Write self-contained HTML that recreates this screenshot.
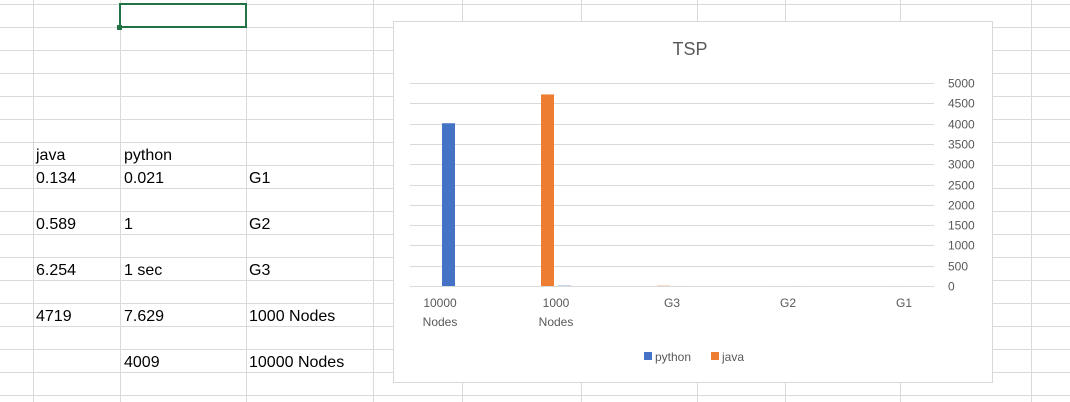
<!DOCTYPE html>
<html><head><meta charset="utf-8"><style>
body{margin:0;width:1070px;height:402px;overflow:hidden;background:#fff;font-family:"Liberation Sans",sans-serif;position:relative}
.cell{position:absolute;font-size:16px;color:#000;line-height:16px}
</style></head><body>
<svg id="grid" width="1070" height="402" style="position:absolute;left:0;top:0"></svg>
<div style="position:absolute;left:119px;top:3px;width:128px;height:25px;border:2px solid #217346;box-sizing:border-box"></div>
<div style="position:absolute;left:117px;top:25px;width:5px;height:5px;background:#217346"></div>
<div class="cell" style="left:36px;top:148px">java</div>
<div class="cell" style="left:124px;top:148px">python</div>
<div class="cell" style="left:36px;top:171px">0.134</div>
<div class="cell" style="left:124px;top:171px">0.021</div>
<div class="cell" style="left:249px;top:171px">G1</div>
<div class="cell" style="left:36px;top:217px">0.589</div>
<div class="cell" style="left:124px;top:217px">1</div>
<div class="cell" style="left:249px;top:217px">G2</div>
<div class="cell" style="left:36px;top:263px">6.254</div>
<div class="cell" style="left:124px;top:263px">1 sec</div>
<div class="cell" style="left:249px;top:263px">G3</div>
<div class="cell" style="left:36px;top:309px">4719</div>
<div class="cell" style="left:124px;top:309px">7.629</div>
<div class="cell" style="left:249px;top:309px">1000 Nodes</div>
<div class="cell" style="left:124px;top:355px">4009</div>
<div class="cell" style="left:249px;top:355px">10000 Nodes</div>
<svg id="chart" width="1070" height="402" style="position:absolute;left:0;top:0"></svg>
<script>
const categories=["10000 Nodes","1000 Nodes","G3","G2","G1"];
const pythonValues=[4009,7.629,1,1,0.021];
const javaValues=[0,4719,6.254,0.589,0.134];
const yTicks=[0,500,1000,1500,2000,2500,3000,3500,4000,4500,5000];
const NS="http://www.w3.org/2000/svg";
function mk(p,t,a){const e=document.createElementNS(NS,t);for(const k in a)e.setAttribute(k,a[k]);p.appendChild(e);return e;}
const g=document.getElementById('grid');
[33,120,246,373,462,581,697,785,900,1031].forEach(x=>{const l=mk(g,'line',{x1:x+.5,x2:x+.5,y1:0,y2:402,stroke:'#dadada'});

});
for(let y=4;y<402;y+=23){const l=mk(g,'line',{x1:0,x2:1070,y1:y+.5,y2:y+.5,stroke:'#dadada'});

}
const c=document.getElementById('chart');
const box=mk(c,'rect',{x:393.5,y:21.5,width:599,height:361,fill:'#fff',stroke:'#d9d9d9'});


const t=mk(c,'text',{x:690,y:55,'text-anchor':'middle','font-size':18,fill:'#595959','font-family':'Liberation Sans Narrow, Liberation Sans, sans-serif'});t.textContent='TSP';


const y0=286,y1=83,vmax=5000,px0=410,px1=934;
const yS=v=>y0-(v/vmax)*(y0-y1);
const xC=i=>440+116*i;
yTicks.forEach(v=>{const y=Math.round(yS(v))+.5;
const l=mk(c,'line',{x1:px0,x2:px1,y1:y,y2:y,stroke:'#d9d9d9'});


const tx=mk(c,'text',{x:948,y:y+4,'font-size':12,fill:'#595959','font-family':'Liberation Sans Narrow, Liberation Sans, sans-serif'});tx.textContent=v;

});
categories.forEach((cat,i)=>{const parts=cat.split(' ');
parts.forEach((p,j)=>{const tx=mk(c,'text',{x:xC(i),y:307+j*19,'text-anchor':'middle','font-size':12,fill:'#595959','font-family':'Liberation Sans Narrow, Liberation Sans, sans-serif'});tx.textContent=p;

});
const pv=pythonValues[i],jv=javaValues[i];
const b1=mk(c,'rect',{x:xC(i)+2,y:yS(pv),width:13,height:y0-yS(pv),fill:'#4472c4'});


const b2=mk(c,'rect',{x:xC(i)-15,y:yS(jv),width:13,height:y0-yS(jv),fill:'#ed7d31'});

});
const lg=[["python","#4472c4",644],["java","#ed7d31",711]];
lg.forEach(([n,col,x])=>{const r=mk(c,'rect',{x:x,y:352,width:8,height:8,fill:col});


const tx=mk(c,'text',{x:x+11,y:361,'font-size':12,fill:'#595959','font-family':'Liberation Sans Narrow, Liberation Sans, sans-serif'});tx.textContent=n;

});
</script>
</body></html>
